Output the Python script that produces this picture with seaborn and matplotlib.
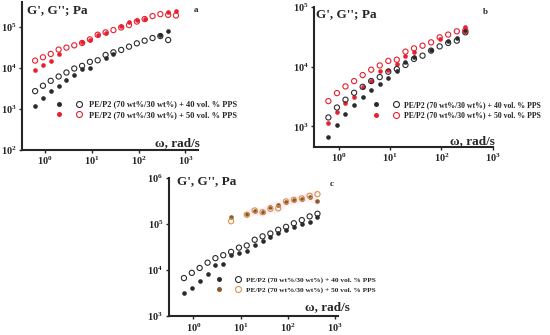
import numpy as np
import seaborn as sns
import matplotlib.pyplot as plt
from matplotlib.lines import Line2D
from matplotlib.legend_handler import HandlerTuple
from matplotlib.ticker import LogFormatterMathtext, NullLocator

sns.set_style("ticks")
plt.rcParams["font.family"] = ["Liberation Serif", "DejaVu Serif"]
plt.rcParams["font.weight"] = "bold"
plt.rcParams["mathtext.fontset"] = "custom"
plt.rcParams["mathtext.rm"] = "Liberation Serif:bold"
plt.rcParams["mathtext.bf"] = "Liberation Serif:bold"
plt.rcParams["mathtext.default"] = "rm"

# -------------------------
# DATA
# -------------------------

w = [0.628, 0.922, 1.35, 1.99, 2.92, 4.28, 6.28, 9.22, 13.5, 19.9,
     29.2, 42.8, 62.8, 92.2, 135, 199, 292, 428, 628]
nan = np.nan

# panel a
a40_open = [2720, 3670, 4840, 6170, 7700, 9640, 11200, 14000, 15300, 20600,
            23900, 27300, 32800, 39500, 45800, 53200, 59400, 47600]
a40_fill = [1180, 1850, 2680, 3600, 5130, 6650, 9300, 10200, nan, 17500,
            21800, nan, nan, nan, nan, nan, 61600, 77000]
a50_open = [15000, 18100, 21800, 27800, 31100, 35300, 40300, 49400, 64000, 73000,
            83000, 96000, 110000, 134000, 154000, 182000, 203000, 195000, 188000]
a50_fill = [9100, 11600, 14800, 21800, nan, nan, 41700, 47600, 61600, 72000,
            nan, 105000, 127000, 143000, 156000, nan, nan, 230000, 244000]

# panel b
b40_open = [1410, 2070, 2800, 3660, 4600, 5750, 6700, 8240, 9130, 10700,
            13500, 15300, 18600, 21900, 25000, 27300, 37700]
b40_fill = [675, 1070, 1600, 2240, 3050, 4100, 5200, 6400, 8600, 11800,
            14300, nan, 19000, nan, 27300, 29900, 39000]
b50_open = [2650, 3610, 4670, 5740, 7240, 8910, 10500, 12500, 13100, 17900,
            20300, 22500, 25600, 31100, 34500, 39200, 40300]
b50_fill = [1160, 1750, 2450, 3130, 4610, 5800, 8600, 8900, 11000, 15300,
            17400, nan, nan, 29000, nan, nan, 45700]

# panel c
c40_open = [6760, 8770, 11200, 14600, 18300, 21200, 25000, 31000, 34500, 46000,
            54500, 62800, 75700, 87700, 105000, 123000, 148000, 169000]
c40_fill = [3190, 4200, 5830, 8340, 13200, 13900, 21200, 23800, 25800, 35700,
            43500, 52800, 64400, 75700, 87700, 100000, 110000, 143000]
c50_open = [nan, nan, nan, nan, nan, nan, 116000, nan, 161000, 199000,
            183000, 216000, 222000, 313000, 340000, 363000, 414000, 450000]
c50_fill = [nan, nan, nan, nan, nan, nan, 143000, nan, 165000, 195000,
            180000, 242000, 263000, 305000, 335000, 360000, 388000, 319000]

labels = ["PE/P2 (70 wt%/30 wt%) + 40 vol. % PPS",
          "PE/P2 (70 wt%/30 wt%) + 50 vol. % PPS"]

BLACK = "#2b2b2b"
RED = "#e8202f"
BROWN = "#8a5a2c"
ORANGE = "#d9934c"
PINK = "#fdeef3"

# -------------------------
# HELPERS
# -------------------------


def series(ax, y, col, filled):
    x = w[:len(y)]
    if filled:
        sns.scatterplot(x=x, y=y, ax=ax, color=col, s=11, linewidth=0, zorder=3)
    else:
        sns.scatterplot(x=x, y=y, ax=ax, color=col, facecolor="none",
                        edgecolor=col, s=14, linewidth=0.8, zorder=4)


def style(ax, xlim, ylim, yticks, title, letter, tpos, lpos, xlpos):
    ax.set_xlim(*xlim)
    ax.set_ylim(*ylim)
    ax.set_xticks([1, 10, 100, 1000])
    ax.set_yticks(yticks)
    ax.xaxis.set_major_formatter(LogFormatterMathtext())
    ax.yaxis.set_major_formatter(LogFormatterMathtext())
    ax.xaxis.set_minor_locator(NullLocator())
    ax.yaxis.set_minor_locator(NullLocator())
    ax.tick_params(labelsize=7.5, length=2.5, width=1, pad=1.5)
    ax.tick_params(axis="x", pad=1)
    sns.despine(ax=ax)
    for s in ["left", "bottom"]:
        ax.spines[s].set_linewidth(1.5)
    ax.set_xlabel("")
    ax.set_ylabel("")
    ax.text(tpos[0], tpos[1], title, transform=ax.transAxes, va="top",
            ha="left", fontsize=9.5, fontweight="bold")
    ax.text(lpos[0], lpos[1], letter, transform=ax.transAxes, va="top",
            ha="center", fontsize=6.5, fontweight="bold")
    ax.text(xlpos[0], xlpos[1], "ω, rad/s", transform=ax.transAxes,
            va="center", ha="right", fontsize=9.5, fontweight="bold")


def legend(ax, cols, anchor, pad, size):
    handles = []
    for cf, co in cols:
        h1 = Line2D([], [], ls="none", marker="o", ms=3.6, mfc=cf, mec=cf, mew=0)
        h2 = Line2D([], [], ls="none", marker="o", ms=4.3, mfc="none", mec=co, mew=0.8)
        handles.append((h1, h2))
    ax.legend(handles, labels, handler_map={tuple: HandlerTuple(ndivide=None, pad=pad)},
              loc="upper left", bbox_to_anchor=anchor, frameon=False,
              prop={"size": size, "weight": "bold"}, handlelength=4.2,
              handletextpad=0.3, labelspacing=0.35, borderpad=0, borderaxespad=0)


fig = plt.figure(figsize=(5.5, 3.35), dpi=100)

# -------------------------
# PANEL A
# -------------------------
ax = fig.add_axes([0.040, 0.552, 0.320, 0.442])
ax.set_xscale("log")
ax.set_yscale("log")
series(ax, a40_open, BLACK, False)
series(ax, a40_fill, BLACK, True)
series(ax, a50_open, RED, False)
series(ax, a50_fill, RED, True)
style(ax, (0.33, 1850), (100, 400000), [1e2, 1e3, 1e4, 1e5],
      "G', G''; Pa", "a", (0.03, 0.985), (0.99, 0.97), (1.01, 0.05))
legend(ax, [(BLACK, BLACK), (RED, RED)], (0.17, 0.335), 0.6, 6)

# -------------------------
# PANEL B
# -------------------------
ax = fig.add_axes([0.571, 0.561, 0.325, 0.418])
ax.set_xscale("log")
ax.set_yscale("log")
series(ax, b40_open, BLACK, False)
series(ax, b40_fill, BLACK, True)
series(ax, b50_open, RED, False)
series(ax, b50_fill, RED, True)
style(ax, (0.33, 1000), (450, 100000), [1e3, 1e4, 1e5],
      "G', G''; Pa", "b", (0.01, 0.995), (0.96, 0.99), (1.01, 0.04))
legend(ax, [(BLACK, BLACK), (RED, RED)], (0.31, 0.33), 1.0, 5.6)

# -------------------------
# PANEL C
# -------------------------
ax = fig.add_axes([0.307, 0.056, 0.307, 0.412])
ax.set_xscale("log")
ax.set_yscale("log")
# faint pink band behind the 50 vol.% points (as in the scanned figure)
c50_lo = [min(o, f) * 0.8 for o, f in zip(c50_open, c50_fill)]
c50_hi = [max(o, f) * 1.2 for o, f in zip(c50_open, c50_fill)]
ax.fill_between(w[:len(c50_lo)], c50_lo, c50_hi, color=PINK, lw=0, zorder=1)
series(ax, c40_open, BLACK, False)
series(ax, c40_fill, BLACK, True)
series(ax, c50_open, ORANGE, False)
series(ax, c50_fill, BROWN, True)
style(ax, (0.3, 1150), (1000, 1000000), [1e3, 1e4, 1e5, 1e6],
      "G', G'', Pa", "c", (0.05, 1.02), (0.965, 0.99), (1.07, 0.065))
legend(ax, [(BLACK, BLACK), (BROWN, ORANGE)], (0.26, 0.285), 1.0, 5.3)

fig.savefig("out.png", dpi=100)
